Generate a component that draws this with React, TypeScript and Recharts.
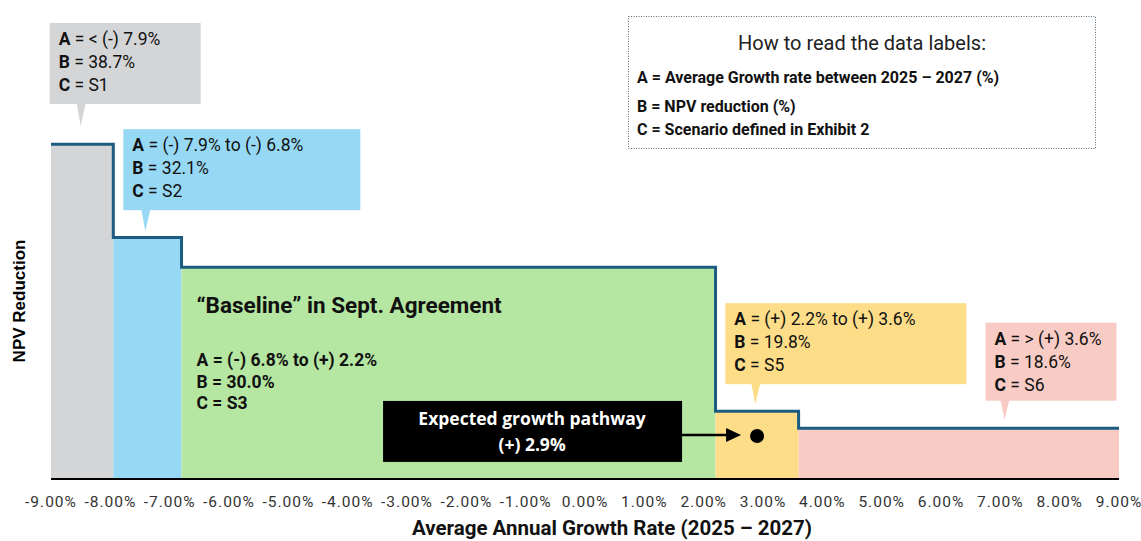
import { ComposedChart, Line, XAxis, YAxis, ReferenceArea, ReferenceDot } from "recharts";

// scenario segments (x = average annual growth %, y = NPV reduction %)
const scenarios = ["S1", "S2", "S3", "S5", "S6"];
const segStart = [-9, -7.95, -6.8, 2.2, 3.6];
const segEnd = [-7.95, -6.8, 2.2, 3.6, 9];
const npvReduction = [38.7, 32.1, 30.0, 19.8, 18.6];
const rangeText = ["< (-) 7.9%", "(-) 7.9% to (-) 6.8%", "(-) 6.8% to (+) 2.2%", "(+) 2.2% to (+) 3.6%", "> (+) 3.6%"];
const segColors = ["#d4d5d7", "#97d9f5", "#b5e6a2", "#fedd88", "#f8ccc4"];

// where each callout pointer touches (data coords); S3 is labelled inside the area
const calloutX = [-8.5, -7.41, 2.87, 7.07];
const calloutY = [40, 32.55, 20.3, 19.2];
const calloutSeg = [0, 1, 3, 4];

const expectedGrowth = 2.9;
const expectedY = 18.05;

const xTicks = [-9, -8, -7, -6, -5, -4, -3, -2, -1, 0, 1, 2, 3, 4, 5, 6, 7, 8, 9];

const stepData = [
  ...segStart.map((x, i) => ({ x, npv: npvReduction[i] })),
  { x: segEnd[segEnd.length - 1], npv: npvReduction[npvReduction.length - 1] },
];

const FONT = "Roboto, sans-serif";

// box layout relative to pointer tip: left offset, width, height, gap below box
const boxLayout = [
  { dx: -31, w: 151, h: 81, gap: 22 },
  { dx: -22, w: 237, h: 81, gap: 21 },
  { dx: -30, w: 241, h: 81, gap: 20 },
  { dx: -19, w: 131, h: 78, gap: 19 },
];

function Callout({ cx, cy, k }: { cx: number; cy: number; k: number }) {
  const s = calloutSeg[k];
  const b = boxLayout[k];
  const top = cy - b.gap - b.h;
  const left = cx + b.dx;
  const lines = [
    ["A", rangeText[s]],
    ["B", `${npvReduction[s].toFixed(1)}%`],
    ["C", scenarios[s]],
  ];
  return (
    <g>
      <rect x={left} y={top} width={b.w} height={b.h} fill={segColors[s]} />
      <polygon points={`${cx - 4},${cy - b.gap - 1} ${cx + 5},${cy - b.gap - 1} ${cx},${cy}`} fill={segColors[s]} />
      {lines.map(([l, v], j) => (
        <text key={l} x={left + 9} y={top + 22 + j * 23} fontSize={17.5} fontFamily={FONT} fill="#111">
          <tspan fontWeight={700}>{l}</tspan>
          <tspan> = {v}</tspan>
        </text>
      ))}
    </g>
  );
}

function BaselineLabel({ cx, cy }: { cx: number; cy: number }) {
  const s = 2;
  return (
    <g fontFamily={FONT} fill="#111" fontWeight={700}>
      <text x={cx + 15} y={cy + 46} fontSize={22.5}>“Baseline” in Sept. Agreement</text>
      <text x={cx + 15} y={cy + 99} fontSize={17.5}>A = {rangeText[s]}</text>
      <text x={cx + 15} y={cy + 121} fontSize={17.5}>B = {npvReduction[s].toFixed(1)}%</text>
      <text x={cx + 15} y={cy + 142} fontSize={17.5}>C = {scenarios[s]}</text>
    </g>
  );
}

function ExpectedMarker({ cx, cy }: { cx: number; cy: number }) {
  return (
    <g>
      <rect x={cx - 374} y={cy - 35} width={299} height={61} fill="#000" />
      <text x={cx - 225} y={cy - 11} fontSize={17.5} fontWeight={700} fontFamily="'Open Sans', sans-serif" fill="#fff" textAnchor="middle">
        Expected growth pathway
      </text>
      <text x={cx - 225} y={cy + 15} fontSize={17.5} fontWeight={700} fontFamily="'Open Sans', sans-serif" fill="#fff" textAnchor="middle">
        (+) {expectedGrowth}%
      </text>
      <line x1={cx - 75} y1={cy - 1} x2={cx - 30} y2={cy - 1} stroke="#000" strokeWidth={2.5} />
      <polygon points={`${cx - 31},${cy - 8} ${cx - 16},${cy - 1} ${cx - 31},${cy + 6}`} fill="#000" />
      <circle cx={cx} cy={cy} r={7} fill="#000" />
    </g>
  );
}

export default function App() {
  return (
    <div style={{ position: "absolute", left: 0, top: 0, width: 1141, height: 541, background: "#fff" }}>
      <ComposedChart width={1141} height={541} data={stepData} margin={{ top: 13, right: 22, left: 0, bottom: 0 }}>
        <XAxis
          dataKey="x"
          type="number"
          domain={[-9, 9]}
          ticks={xTicks}
          interval={0}
          allowDataOverflow
          tickLine={false}
          axisLine={{ stroke: "#000", strokeWidth: 2 }}
          tickMargin={11}
          tick={{ fontSize: 15.5, fill: "#333", fontFamily: FONT, letterSpacing: 1 }}
          tickFormatter={(v) => `${Number(v).toFixed(2)}%`}
          height={62}
          label={{
            value: "Average Annual Growth Rate (2025 – 2027)",
            position: "insideBottom",
            offset: 6,
            dx: 27,
            style: { fontSize: 20.5, fontWeight: 700, fill: "#111", fontFamily: FONT },
          }}
        />
        <YAxis domain={[15, 48]} type="number" allowDataOverflow tick={false} tickLine={false} axisLine={false} width={51} />
        {segStart.map((x, i) => (
          <ReferenceArea
            key={scenarios[i]}
            x1={x}
            x2={segEnd[i]}
            y1={15}
            y2={npvReduction[i]}
            fill={segColors[i]}
            fillOpacity={1}
            stroke="none"
            ifOverflow="visible"
          />
        ))}
        <Line
          type="stepAfter"
          dataKey="npv"
          stroke="#1b5c80"
          strokeWidth={3}
          dot={false}
          activeDot={false}
          isAnimationActive={false}
        />
        <ReferenceDot
          x={segStart[2]}
          y={npvReduction[2]}
          r={0}
          ifOverflow="visible"
          shape={(p: any) => <BaselineLabel cx={p.cx} cy={p.cy} />}
        />
        {calloutX.map((x, k) => (
          <ReferenceDot
            key={"c" + k}
            x={x}
            y={calloutY[k]}
            r={0}
            ifOverflow="visible"
            shape={(p: any) => <Callout cx={p.cx} cy={p.cy} k={k} />}
          />
        ))}
        <ReferenceDot
          x={expectedGrowth}
          y={expectedY}
          r={7}
          ifOverflow="visible"
          shape={(p: any) => <ExpectedMarker cx={p.cx} cy={p.cy} />}
        />
      </ComposedChart>
      <svg width={1141} height={541} style={{ position: "absolute", left: 0, top: 0, pointerEvents: "none" }}>
        <text
          x={19}
          y={301}
          transform="rotate(-90 19 301)"
          textAnchor="middle"
          dominantBaseline="central"
          fontSize={17}
          fontWeight={700}
          fontFamily="'Liberation Sans', Arial, sans-serif"
          fill="#000"
        >
          NPV Reduction
        </text>
        <rect x={628.5} y={16.5} width={467} height={132} fill="#fff" stroke="#5a6a7a" strokeWidth={1} strokeDasharray="1 1.5" />
        <text x={862} y={50} fontSize={20} fontFamily={FONT} fill="#222" textAnchor="middle">
          How to read the data labels:
        </text>
        <g fontSize={16} fontWeight={700} fontFamily={FONT} fill="#111">
          <text x={637} y={83}>A = Average Growth rate between 2025 – 2027 (%)</text>
          <text x={637} y={112}>B = NPV reduction (%)</text>
          <text x={637} y={135}>C = Scenario defined in Exhibit 2</text>
        </g>
      </svg>
    </div>
  );
}
